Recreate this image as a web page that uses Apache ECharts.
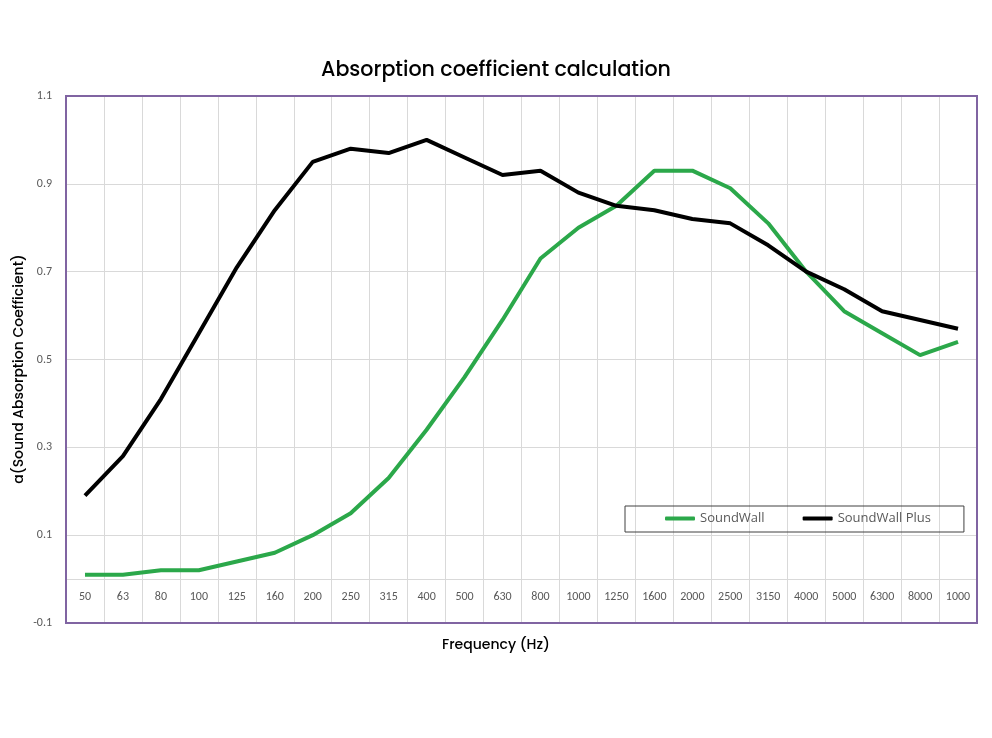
<!DOCTYPE html>
<html>
<head>
<meta charset="utf-8">
<script src="https://cdn.jsdelivr.net/npm/echarts@6/dist/echarts.min.js"></script>
<style>html,body{margin:0;padding:0;background:#fff}#c{width:992px;height:738px}</style>
</head>
<body>
<div id="c"></div>
<script>
const categories = ['50','63','80','100','125','160','200','250','315','400','500','630','800','1000','1250','1600','2000','2500','3150','4000','5000','6300','8000','1000'];
const soundWall = [0.01,0.01,0.02,0.02,0.04,0.06,0.10,0.15,0.23,0.34,0.46,0.59,0.73,0.80,0.85,0.93,0.93,0.89,0.81,0.70,0.61,0.56,0.51,0.54];
const soundWallPlus = [0.19,0.28,0.41,0.56,0.71,0.84,0.95,0.98,0.97,1.00,0.96,0.92,0.93,0.88,0.85,0.84,0.82,0.81,0.76,0.70,0.66,0.61,0.59,0.57];
const yMin = -0.1, yMax = 1.1, yStep = 0.2;

const chart = echarts.init(document.getElementById('c'));
const labelFont = {color:'#595959', fontSize:12, fontFamily:'Calibri, Carlito, "Open Sans", sans-serif'};
chart.setOption({
  animation:false,
  backgroundColor:'#fff',
  title:{
    text:'Absorption coefficient calculation',
    left:'center', top:55,
    textStyle:{fontFamily:'Poppins, Inter, sans-serif', fontSize:20.6, fontWeight:500, color:'#000'}
  },
  grid:{left:66, right:15, top:96, bottom:115, show:true, borderColor:'#8064A2', borderWidth:2, z:5, containLabel:false},
  legend:{
    data:['SoundWall','SoundWall Plus'],
    left:625, top:506,
    padding:[6,33,7,40],
    borderColor:'#404040', borderWidth:1,
    itemWidth:30, itemHeight:4, itemGap:38,
    icon:'roundRect',
    textStyle:{color:'#595959', fontSize:13, fontFamily:'"Open Sans", sans-serif'}
  },
  xAxis:{
    type:'category', data:categories, boundaryGap:true,
    axisLine:{show:true, onZero:true, lineStyle:{color:'#D9D9D9', width:1}},
    axisTick:{show:false},
    axisLabel:Object.assign({margin:-32, interval:0}, labelFont),
    splitLine:{show:true, interval:0, lineStyle:{color:'#D9D9D9', width:1}}
  },
  yAxis:{
    type:'value', min:yMin, max:yMax, interval:yStep,
    axisLine:{show:false}, axisTick:{show:false},
    axisLabel:Object.assign({margin:14, formatter:v=>Number(v.toFixed(1)).toString()}, labelFont),
    splitLine:{show:true, lineStyle:{color:'#D9D9D9', width:1}}
  },
  graphic:[
    {type:'text', left:12, top:'middle', rotation:Math.PI/2, x:0, y:12,
     style:{text:'a(Sound Absorption Coefficient)', fill:'#000', font:'500 14px Poppins, Inter, sans-serif'}},
    {type:'text', left:'center', top:638, x:3,
     style:{text:'Frequency (Hz)', fill:'#000', font:'500 14px Poppins, Inter, sans-serif'}}
  ],
  series:[
    {name:'SoundWall', type:'line', data:soundWall, showSymbol:false, symbol:'none',
     lineStyle:{color:'#2BA84A', width:4}, itemStyle:{color:'#2BA84A'}},
    {name:'SoundWall Plus', type:'line', data:soundWallPlus, showSymbol:false, symbol:'none',
     lineStyle:{color:'#000', width:4}, itemStyle:{color:'#000'}}
  ]
});
</script>
</body>
</html>
